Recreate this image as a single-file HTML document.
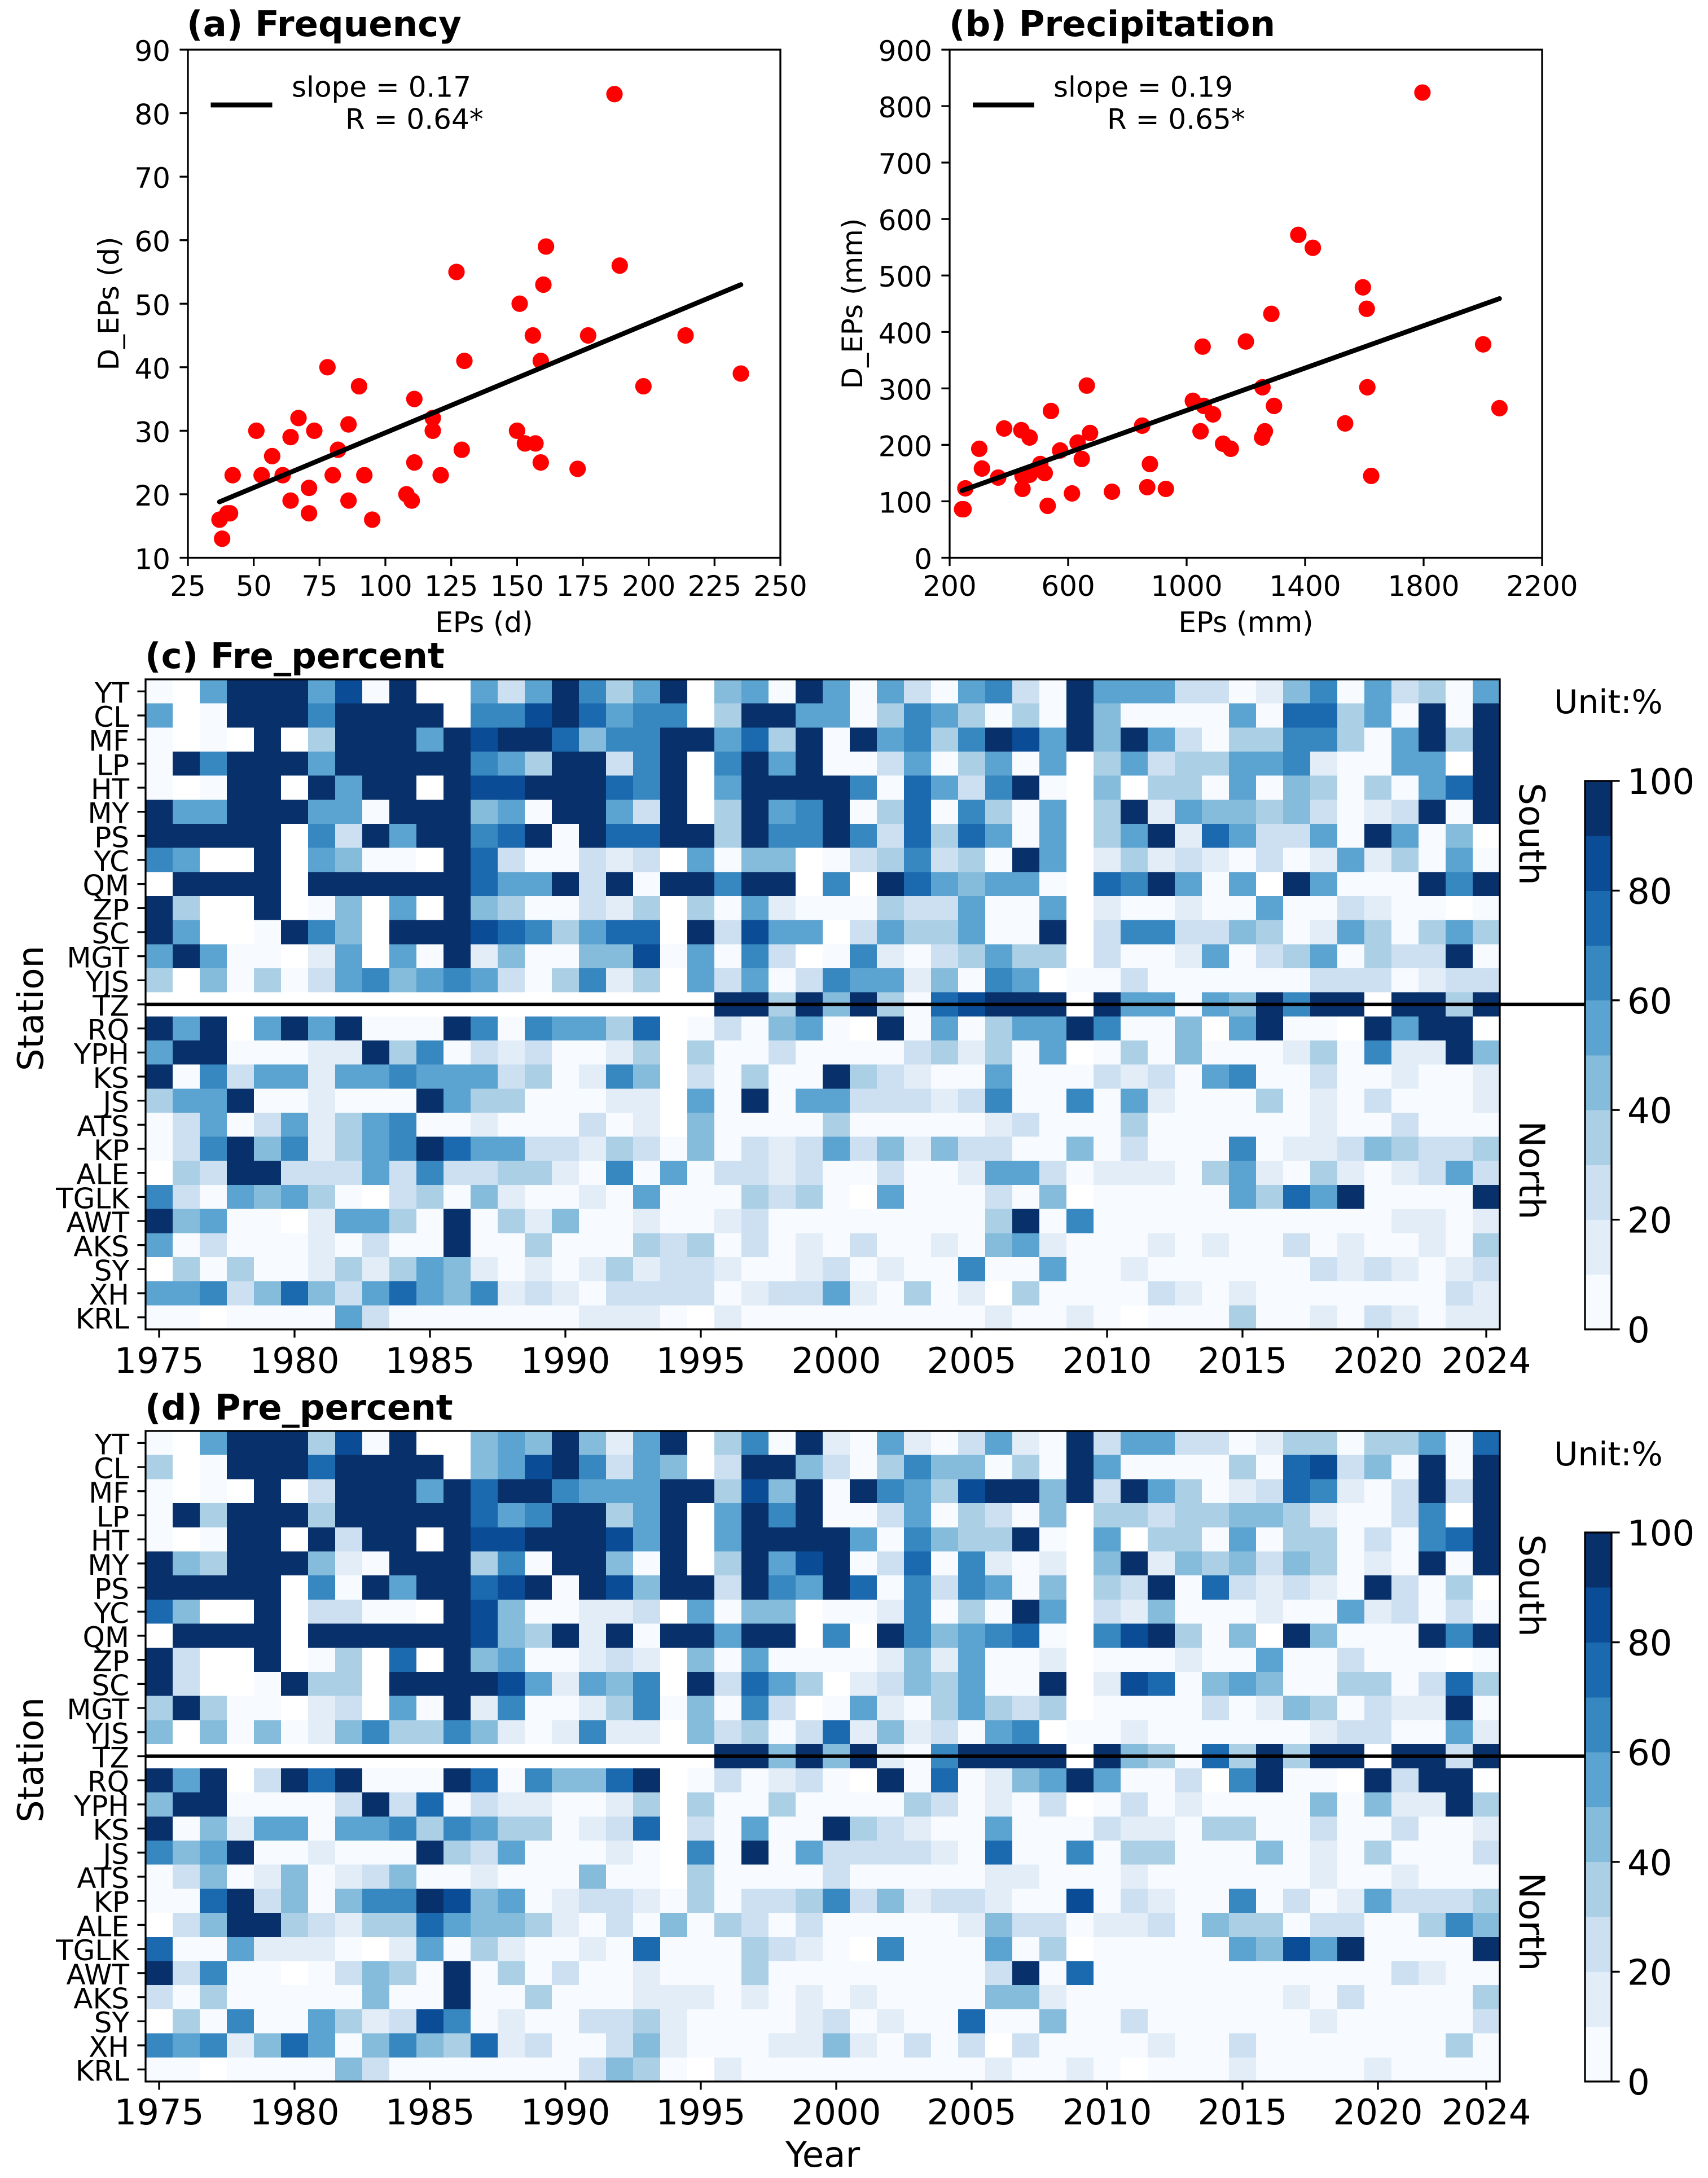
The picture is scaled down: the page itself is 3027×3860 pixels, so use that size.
<!DOCTYPE html>
<html lang="en">
<head>
<meta charset="utf-8">
<title>EPs frequency and precipitation charts</title>
<style>
html,body{margin:0;padding:0;background:#fff;}
svg{display:block;}
text{font-family:"DejaVu Sans","Liberation Sans",sans-serif;fill:#000;}
.t{font-size:62.5px;font-weight:bold;}
.l{font-size:50px;}
.lg{font-size:50px;}
.m{font-size:62.5px;}
.u{font-size:58px;}
</style>
</head>
<body>
<svg id="fig" xmlns="http://www.w3.org/2000/svg" width="3027" height="3860" viewBox="0 0 3027 3860">
  <rect x="0" y="0" width="3027" height="3860" fill="#ffffff"/>
  <g id="panelA"></g>
  <g id="panelB"></g>
  <g id="panelC"></g>
  <g id="panelD"></g>

  <text class="t" x="331" y="64">(a) Frequency</text>
  <text class="t" x="1682" y="64">(b) Precipitation</text>
  <text class="t" x="257" y="1184">(c) Fre_percent</text>
  <text class="t" x="257" y="2516">(d) Pre_percent</text>

  <text class="l" x="858" y="1120" text-anchor="middle">EPs (d)</text>
  <text class="l" x="2208" y="1120" text-anchor="middle">EPs (mm)</text>
  <text class="l" text-anchor="middle" transform="translate(210 538) rotate(-90)">D_EPs (d)</text>
  <text class="l" text-anchor="middle" transform="translate(1528 538) rotate(-90)">D_EPs (mm)</text>

  <text class="lg" x="517" y="171.5">slope = 0.17</text>
  <text class="lg" x="612" y="228.5">R = 0.64*</text>
  <text class="lg" x="1867" y="171.5">slope = 0.19</text>
  <text class="lg" x="1962" y="228.5">R = 0.65*</text>
  <line x1="373.5" x2="482.5" y1="186" y2="186" stroke="#000" stroke-width="8.8"/>
  <line x1="1724" x2="1833" y1="186" y2="186" stroke="#000" stroke-width="8.8"/>

  <text class="m" text-anchor="middle" transform="translate(76 1787) rotate(-90)">Station</text>
  <text class="m" text-anchor="middle" transform="translate(76 3119) rotate(-90)">Station</text>
  <text class="m" text-anchor="middle" x="1458" y="3840">Year</text>

  <text class="m" text-anchor="middle" transform="translate(2693 1478) rotate(90)">South</text>
  <text class="m" text-anchor="middle" transform="translate(2693 2074) rotate(90)">North</text>
  <text class="m" text-anchor="middle" transform="translate(2693 2810) rotate(90)">South</text>
  <text class="m" text-anchor="middle" transform="translate(2693 3406) rotate(90)">North</text>

  <text class="u" x="2754" y="1264">Unit:%</text>
  <text class="u" x="2754" y="2597">Unit:%</text>
</svg>
<script>
const _ = null;

const freqX = [187,161,189,127,160,151,156,177,214,130,159,78,235,90,198,111,67,118,51,73,118,150,86,64,153,157,82,129,57,111,159,173,42,53,61,80,92,121,71,108,64,86,110,71,40,41,95,37,38];
const freqY = [83,59,56,55,53,50,45,45,45,41,41,40,39,37,37,35,32,32,30,30,30,30,31,29,28,28,27,27,26,25,25,24,23,23,23,23,23,23,21,20,19,19,19,17,17,17,16,16,13];
const freqLineX = [37,235];
const freqLineY = [18.8,53];
const freqXTicks = [25,50,75,100,125,150,175,200,225,250];
const freqYTicks = [10,20,30,40,50,60,70,80,90];

const precX = [1796,1377,1426,1595,1608,1286,1054,1200,2001,663,1256,1610,1021,1058,1295,2056,542,1089,1535,850,384,442,470,674,1047,1264,1255,632,1123,1149,300,573,646,506,876,309,521,470,446,364,1623,253,446,867,930,748,613,531,242,247];
const precY = [824,572,549,479,441,432,374,383,378,305,302,302,278,269,269,265,260,254,238,234,229,226,213,221,224,224,213,204,202,193,193,190,175,166,166,158,150,147,145,142,145,123,122,125,122,117,114,92,86,86];
const precLineX = [242,2056];
const precLineY = [119,459];
const precXTicks = [200,600,1000,1400,1800,2200];
const precYTicks = [0,100,200,300,400,500,600,700,800,900];

const stations = ["YT","CL","MF","LP","HT","MY","PS","YC","QM","ZP","SC","MGT","YJS","TZ","RQ","YPH","KS","JS","ATS","KP","ALE","TGLK","AWT","AKS","SY","XH","KRL"];
const firstYear = 1975;
const yearTicks = [1975,1980,1985,1990,1995,2000,2005,2010,2015,2020,2024];
const dividerStation = "TZ";
const colorLevels = [0,10,20,30,40,50,60,70,80,90,100];
const colorBins = ["#f7fbff","#e2edf8","#cde0f1","#abd0e6","#85bcdc","#5ba3d0","#3787c0","#1b69af","#0a4c96","#08306b"];
const colorbarTicks = [0,20,40,60,80,100];

const frePercent = [
[5,_,55,95,95,95,55,85,5,95,_,_,55,25,55,95,65,35,55,95,_,45,55,5,95,55,5,55,25,5,55,65,25,5,95,55,55,55,25,25,5,15,45,65,5,55,25,35,5,55],
[55,_,5,95,95,95,65,95,95,95,95,_,65,65,85,95,75,55,65,65,_,35,95,95,55,55,5,35,65,55,35,5,35,5,95,45,5,5,5,5,55,5,75,75,35,55,5,95,5,95],
[5,_,5,_,95,_,35,95,95,95,55,95,85,95,95,75,45,65,65,95,95,55,75,35,95,5,95,55,65,35,65,95,85,55,95,45,95,55,25,5,35,35,65,65,35,5,55,95,35,95],
[5,95,65,95,95,95,55,95,95,95,95,95,65,55,35,95,95,25,65,95,_,65,95,55,95,5,5,25,55,5,35,55,5,55,_,35,55,25,35,35,55,55,65,15,5,5,55,55,_,95],
[5,_,5,95,95,_,95,55,95,95,_,95,85,85,95,95,95,75,65,95,_,55,95,95,95,95,65,5,75,55,25,65,95,5,_,45,_,35,35,5,55,5,45,35,5,35,5,55,75,95],
[95,55,55,95,95,95,55,55,5,95,95,95,45,55,5,95,95,55,25,95,_,35,95,55,65,95,5,35,75,5,65,35,5,55,_,35,95,15,55,45,45,35,45,25,5,15,25,95,5,95],
[95,95,95,95,95,_,65,25,95,55,95,95,65,75,95,5,95,75,75,95,95,35,95,65,65,95,65,25,75,35,75,55,5,55,_,35,55,95,15,75,55,25,25,55,5,95,55,5,45,_],
[65,55,_,_,95,_,55,45,5,5,_,95,75,25,5,5,25,15,25,_,55,5,45,45,_,5,25,35,65,25,35,5,95,55,_,15,35,15,25,15,5,25,5,15,55,15,35,5,55,5],
[_,95,95,95,95,_,95,95,95,95,95,95,75,55,55,95,25,95,5,95,95,65,95,95,_,65,_,95,75,55,45,55,55,5,_,75,65,95,55,5,55,_,95,55,5,5,5,95,65,95],
[95,35,_,_,95,_,5,45,_,55,_,95,45,35,5,5,25,15,35,_,35,5,55,15,5,5,5,35,25,25,55,5,5,55,_,15,5,5,15,5,5,55,5,5,25,15,5,5,_,5],
[95,55,_,_,5,95,65,45,_,95,95,95,85,75,65,35,55,75,75,_,95,25,85,55,55,_,25,55,35,35,55,5,5,95,_,25,65,65,25,25,45,35,5,15,55,35,5,35,55,35],
[55,95,55,5,5,_,15,55,_,55,5,95,15,45,5,5,45,45,85,5,55,5,65,25,_,5,65,15,5,25,35,55,35,35,_,25,5,5,15,55,5,25,35,55,5,35,25,25,95,5],
[35,_,45,5,35,5,25,55,65,45,55,65,55,25,5,35,65,15,35,_,55,25,55,5,25,65,55,55,15,45,5,65,55,_,5,5,25,5,5,5,5,5,5,25,25,25,5,15,25,25],
[_,_,_,_,_,_,_,_,_,_,_,_,_,_,_,_,_,_,_,_,_,95,95,35,95,45,95,35,5,75,85,95,95,95,_,95,55,55,5,55,45,95,65,95,95,_,95,95,35,95],
[95,55,95,_,55,95,55,95,5,5,5,95,65,5,65,55,55,35,75,_,5,25,5,45,55,5,_,95,5,55,5,35,55,55,95,65,5,5,45,_,55,95,5,5,_,95,55,95,95,_],
[55,95,95,5,5,5,15,15,95,35,65,5,25,15,25,5,5,15,35,_,35,5,5,25,5,5,5,5,25,35,15,35,5,55,_,5,35,5,45,5,5,5,15,35,5,65,15,15,95,45],
[95,5,65,25,55,55,15,55,55,65,55,55,55,25,35,5,15,65,45,_,25,5,35,5,5,95,35,25,15,5,5,55,5,5,5,25,15,25,5,55,65,5,5,25,5,5,15,5,5,15],
[35,55,55,95,5,5,15,5,5,5,95,55,35,35,5,5,5,15,15,_,55,5,95,5,55,55,25,25,25,15,25,65,5,5,65,5,55,15,5,5,5,35,5,15,5,25,5,5,5,15],
[5,25,55,5,25,55,15,35,55,65,5,5,15,5,5,5,25,5,15,_,45,5,5,5,5,35,5,5,5,5,5,15,25,5,5,5,35,5,5,5,5,5,5,15,5,5,25,5,5,5],
[5,25,65,95,45,65,15,35,55,65,95,75,55,55,25,25,15,35,25,5,45,5,25,15,25,55,25,45,15,45,25,25,5,5,45,5,25,5,5,5,65,5,15,15,25,45,35,25,25,35],
[_,35,25,95,95,25,25,25,55,25,65,25,25,35,35,15,5,65,5,55,5,25,25,15,25,5,5,25,5,5,15,55,55,25,5,15,15,15,5,35,55,15,5,35,15,5,15,25,55,25],
[65,25,5,55,45,55,35,5,_,25,35,5,45,15,5,5,15,5,55,5,5,5,35,25,35,5,_,55,5,5,5,25,5,45,_,5,5,5,5,5,55,35,75,55,95,5,5,5,5,95],
[95,45,55,5,5,_,15,55,55,35,5,95,5,35,15,45,5,5,15,5,5,15,25,5,5,5,5,5,5,5,5,35,95,5,65,5,5,5,5,5,5,5,5,5,5,5,15,15,5,15],
[55,5,25,5,5,5,15,5,25,5,5,95,5,5,35,5,5,5,35,25,35,5,25,5,15,5,25,5,5,15,5,45,55,15,5,5,5,15,5,15,5,5,25,5,15,5,5,15,5,35],
[_,35,5,35,5,5,15,35,15,35,55,45,15,5,15,5,15,35,15,25,25,15,5,5,15,25,5,15,5,5,65,5,5,55,5,5,15,5,5,5,5,5,5,25,15,25,15,5,15,25],
[55,55,65,25,45,75,45,25,55,75,55,45,65,15,25,15,5,25,25,25,25,5,15,25,25,55,15,5,35,5,15,_,35,5,5,5,5,25,15,5,15,5,5,5,5,5,5,5,25,15],
[5,5,_,5,5,5,5,55,25,5,5,5,5,5,5,5,15,15,15,5,_,15,5,5,5,5,5,5,5,5,5,15,5,5,15,5,_,5,5,5,35,5,5,15,5,25,15,5,15,15]
];

const prePercent = [
[5,_,55,95,95,95,35,85,5,95,_,_,45,55,45,95,45,15,55,95,_,35,65,5,95,15,5,55,15,5,25,55,15,5,95,25,55,55,25,25,5,15,35,35,5,35,35,55,5,75],
[35,_,5,95,95,95,75,95,95,95,95,_,45,55,85,95,65,25,55,45,_,25,95,95,45,25,5,35,65,45,45,5,35,5,95,55,5,5,5,5,35,5,75,85,25,45,5,95,5,95],
[5,_,5,_,95,_,25,95,95,95,55,95,75,95,95,65,55,55,55,95,95,35,85,45,95,5,95,65,55,35,85,95,95,45,95,25,95,55,35,5,15,25,75,65,15,5,25,95,25,95],
[5,95,35,95,95,95,35,95,95,95,95,95,75,55,65,95,95,35,55,95,_,55,95,65,95,5,5,25,55,5,35,25,5,45,_,35,35,25,35,35,45,45,35,15,5,5,25,65,_,95],
[5,_,5,95,95,_,95,25,95,95,_,95,85,85,95,95,95,85,55,95,_,55,95,95,95,95,55,5,65,45,35,35,95,5,_,55,_,35,35,5,55,5,35,35,5,25,5,65,75,95],
[95,45,35,95,95,95,45,15,5,95,95,95,35,65,5,95,95,45,5,95,_,35,95,55,85,95,5,25,75,5,65,15,5,15,_,45,95,15,45,35,45,25,45,35,5,15,5,95,5,95],
[95,95,95,95,95,_,65,5,95,55,95,95,75,85,95,5,95,85,45,95,95,25,95,65,55,95,75,5,65,25,65,55,5,45,_,35,25,95,5,75,25,15,25,15,5,95,25,5,35,_],
[75,45,_,_,95,_,25,25,5,5,_,95,85,45,5,5,15,15,25,_,55,5,45,45,_,5,5,15,65,5,35,5,95,55,_,25,15,45,5,5,5,15,5,5,55,15,25,5,25,5],
[_,95,95,95,95,_,95,95,95,95,95,95,85,45,35,95,15,95,5,95,95,55,95,95,_,65,_,95,65,45,55,65,75,5,_,65,85,95,35,5,45,_,95,45,5,5,5,95,65,95],
[95,25,_,_,95,_,5,35,_,75,_,95,45,55,5,5,15,25,15,_,45,5,55,5,5,5,5,15,45,15,55,5,5,15,_,5,5,5,15,5,5,55,5,5,25,5,5,5,_,5],
[95,25,_,_,5,95,35,35,_,95,95,95,95,85,55,15,55,45,65,_,95,25,75,55,35,_,15,25,45,35,55,5,5,95,_,15,85,75,5,45,55,45,5,5,35,35,5,25,75,35],
[35,95,35,5,5,_,15,25,_,55,5,95,15,65,5,5,15,35,65,5,45,5,65,25,_,5,55,15,5,35,55,35,25,35,_,5,5,5,5,25,5,15,45,35,5,25,15,15,95,5],
[45,_,45,5,45,5,15,45,65,35,35,65,45,15,5,15,65,15,15,_,45,25,35,5,25,75,15,45,15,25,5,55,65,_,5,5,15,5,5,5,5,5,5,15,25,25,5,5,55,15],
[_,_,_,_,_,_,_,_,_,_,_,_,_,_,_,_,_,_,_,_,_,95,95,45,95,45,95,15,5,65,95,95,95,95,_,95,45,35,5,75,35,95,35,95,95,_,95,95,25,95],
[95,55,95,_,25,95,75,95,5,5,5,95,75,5,65,45,45,75,95,_,5,25,5,15,25,5,_,95,5,75,5,15,45,55,95,55,5,5,25,_,65,95,5,5,_,95,25,95,95,_],
[45,95,95,5,5,5,5,25,95,25,75,5,25,15,15,5,5,15,35,_,35,5,5,35,5,5,5,5,35,25,5,15,5,25,_,5,25,5,15,5,5,5,5,45,5,45,15,15,95,35],
[95,5,45,15,55,55,5,55,55,65,35,65,55,35,35,5,15,25,75,_,25,5,55,5,5,95,35,25,15,5,5,55,5,5,5,25,15,15,5,35,35,5,5,25,5,5,25,5,5,15],
[65,45,55,95,5,5,15,5,5,5,95,35,25,55,5,5,5,15,5,_,65,5,95,5,55,25,25,25,25,15,5,75,5,5,65,5,35,35,5,5,5,45,5,15,5,35,5,5,5,25],
[5,25,45,5,15,45,5,15,25,45,5,5,15,5,5,5,45,5,5,_,35,5,5,5,5,25,5,5,5,5,5,15,15,5,5,5,15,5,5,5,5,5,5,15,5,5,15,5,5,5],
[5,5,75,95,25,45,5,45,65,65,95,85,45,55,5,15,25,25,15,5,35,5,25,25,35,65,25,45,15,25,25,15,5,5,85,5,25,15,5,5,65,5,25,5,15,55,25,25,25,35],
[_,25,45,95,95,35,25,15,35,35,75,55,45,45,35,15,5,25,5,45,5,35,25,5,25,5,5,5,5,5,15,45,25,25,5,15,15,25,5,45,35,35,5,25,25,5,5,35,65,45],
[75,5,5,55,15,15,15,5,_,15,55,5,35,15,5,5,15,5,75,5,5,5,35,25,15,5,_,65,5,5,5,55,5,35,_,5,5,5,5,5,55,45,85,55,95,5,5,5,5,95],
[95,25,65,5,5,_,5,25,45,35,5,95,5,35,5,25,5,5,15,5,5,5,35,5,5,5,5,5,5,5,5,25,95,5,75,5,5,5,5,5,5,5,5,5,5,5,25,15,5,5],
[25,5,35,5,5,5,5,5,45,5,5,95,5,5,35,5,5,5,15,15,15,5,15,5,15,5,15,5,5,5,5,45,45,15,5,5,5,5,5,5,5,5,15,5,25,5,5,5,5,35],
[_,35,5,65,5,5,55,35,15,25,85,65,5,15,5,5,25,25,35,15,5,5,5,5,15,25,5,15,5,5,75,5,5,45,5,5,25,5,5,5,5,5,5,15,5,5,5,5,5,25],
[65,55,65,15,45,75,55,5,45,65,45,35,75,15,25,5,5,25,45,15,5,5,5,15,15,45,15,5,25,5,25,_,25,5,5,5,5,15,5,5,25,5,5,5,5,5,5,5,35,5],
[5,5,_,5,5,5,5,45,25,5,5,5,5,5,5,5,25,45,35,5,_,15,5,5,5,5,5,5,5,5,5,15,5,5,15,5,_,5,5,5,15,5,5,5,5,15,5,5,5,5]
];

const NS = "http://www.w3.org/2000/svg";
const SPINE = 3.3;
const TICK = 14.6;

function add(parent, tag, attrs, txt) {
  const el = document.createElementNS(NS, tag);
  for (const k in attrs) el.setAttribute(k, attrs[k]);
  if (txt !== undefined) el.textContent = txt;
  parent.appendChild(el);
  return el;
}
function linear(d0, d1, r0, r1) {
  return function (v) { return r0 + (v - d0) / (d1 - d0) * (r1 - r0); };
}
function frameRect(parent, x, y, w, h) {
  const r = add(parent, "rect", {x: x, y: y, width: w, height: h, fill: "none", stroke: "#000", "stroke-width": SPINE});
  
  
}
function binColor(v) {
  if (v === null || v === undefined || isNaN(v)) return "#ffffff";
  for (let i = 0; i < colorBins.length; i++) {
    if (v < colorLevels[i + 1]) return colorBins[i];
  }
  return colorBins[colorBins.length - 1];
}

function drawScatter(parentId, box, xDomain, yDomain, xTicks, yTicks, xs, ys, lineX, lineY) {
  const g = document.getElementById(parentId);
  const sx = linear(xDomain[0], xDomain[1], box.x0, box.x1);
  const sy = linear(yDomain[0], yDomain[1], box.y1, box.y0);
  xs.forEach(function (xv, i) {
    const dot = add(g, "circle", {cx: sx(xv), cy: sy(ys[i]), r: 14.6, fill: "#ff0000"});
    
    
  });
  const fit = add(g, "line", {x1: sx(lineX[0]), y1: sy(lineY[0]), x2: sx(lineX[1]), y2: sy(lineY[1]), stroke: "#000", "stroke-width": 8.6, "stroke-linecap": "round"});
  
  
  frameRect(g, box.x0, box.y0, box.x1 - box.x0, box.y1 - box.y0);
  xTicks.forEach(function (t) {
    const tk = add(g, "line", {x1: sx(t), x2: sx(t), y1: box.y1, y2: box.y1 + TICK, stroke: "#000", "stroke-width": SPINE});
    
    
    const lb = add(g, "text", {x: sx(t), y: 1056, "text-anchor": "middle", "font-size": 50}, String(t));
    
    
  });
  yTicks.forEach(function (t) {
    const tk = add(g, "line", {x1: box.x0 - TICK, x2: box.x0, y1: sy(t), y2: sy(t), stroke: "#000", "stroke-width": SPINE});
    
    
    const lb = add(g, "text", {x: box.x0 - 31, y: sy(t) + 20, "text-anchor": "end", "font-size": 50}, String(t));
    
    
  });
}

function drawHeatmap(parentId, box, matrix, xLabelBase, cbTop) {
  const g = document.getElementById(parentId);
  const nCols = matrix[0].length;
  const sx = linear(0, nCols, box.x0, box.x1);
  const sy = linear(0, stations.length, box.y0, box.y1);
  const cells = add(g, "g", {"shape-rendering": "crispEdges"});
  
  
  matrix.forEach(function (row, r) {
    row.forEach(function (v, c) {
      const x0 = sx(c), x1 = sx(c + 1), y0 = sy(r), y1 = sy(r + 1);
      const cell = add(cells, "rect", {x: x0, y: y0, width: x1 - x0 + 0.4, height: y1 - y0 + 0.4, fill: binColor(v)});
      
      
    });
  });
  frameRect(g, box.x0, box.y0, box.x1 - box.x0, box.y1 - box.y0);
  stations.forEach(function (s, r) {
    const cy = sy(r + 0.5);
    const tk = add(g, "line", {x1: box.x0 - TICK, x2: box.x0, y1: cy, y2: cy, stroke: "#000", "stroke-width": SPINE});
    
    
    const lb = add(g, "text", {x: box.x0 - 29, y: cy + 20, "text-anchor": "end", "font-size": 50}, s);
    
    
  });
  yearTicks.forEach(function (yr) {
    const cx = sx(yr - firstYear + 0.5);
    const tk = add(g, "line", {x1: cx, x2: cx, y1: box.y1, y2: box.y1 + TICK, stroke: "#000", "stroke-width": SPINE});
    
    
    const lb = add(g, "text", {x: cx, y: xLabelBase, "text-anchor": "middle", "font-size": 62.5}, String(yr));
    
    
  });
  const divY = sy(stations.indexOf(dividerStation) + 0.5);
  const divider = add(g, "line", {x1: box.x0, x2: 2809, y1: divY, y2: divY, stroke: "#000", "stroke-width": 6.25});
  
  

  const cb = {x0: 2809, x1: 2856, y0: cbTop, y1: box.y1};
  const sc = linear(colorLevels[0], colorLevels[colorLevels.length - 1], cb.y1, cb.y0);
  colorBins.forEach(function (col, i) {
    const band = add(g, "rect", {x: cb.x0, y: sc(colorLevels[i + 1]), width: cb.x1 - cb.x0, height: sc(colorLevels[i]) - sc(colorLevels[i + 1]) + 0.4, fill: col, "shape-rendering": "crispEdges"});
    
    
  });
  frameRect(g, cb.x0, cb.y0, cb.x1 - cb.x0, cb.y1 - cb.y0);
  colorbarTicks.forEach(function (t) {
    const tk = add(g, "line", {x1: cb.x1, x2: cb.x1 + TICK, y1: sc(t), y2: sc(t), stroke: "#000", "stroke-width": SPINE});
    
    
    const lb = add(g, "text", {x: 2884, y: sc(t) + 23, "font-size": 62.5}, String(t));
    
    
  });
}

drawScatter("panelA", {x0: 333, x1: 1383, y0: 88, y1: 988.5}, [25, 250], [10, 90], freqXTicks, freqYTicks, freqX, freqY, freqLineX, freqLineY);
drawScatter("panelB", {x0: 1683, x1: 2733, y0: 88, y1: 988.5}, [200, 2200], [0, 900], precXTicks, precYTicks, precX, precY, precLineX, precLineY);
drawHeatmap("panelC", {x0: 258, x1: 2658, y0: 1204, y1: 2356}, frePercent, 2433, 1384);
drawHeatmap("panelD", {x0: 258, x1: 2658, y0: 2536, y1: 3689}, prePercent, 3765, 2716);
</script>
</body>
</html>
